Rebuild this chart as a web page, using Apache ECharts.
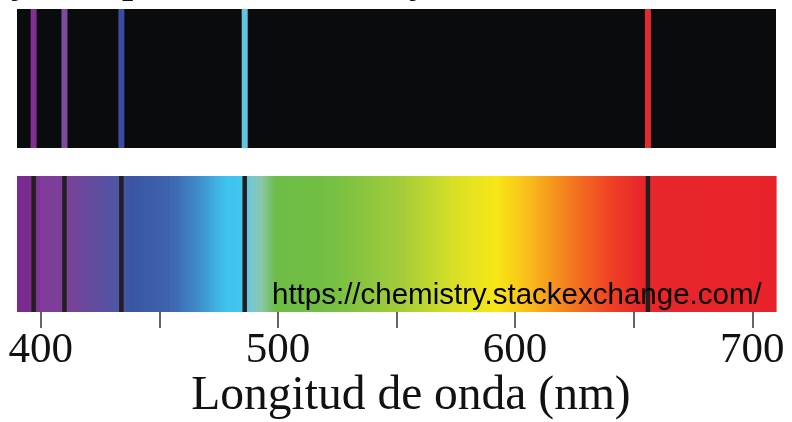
<!DOCTYPE html>
<html>
<head>
<meta charset="utf-8">
<script src="https://cdn.jsdelivr.net/npm/echarts@6/dist/echarts.min.js"></script>
<style>
  html, body { margin: 0; background: #fff; }
  #chart { width: 792px; height: 422px; }
</style>
</head>
<body>
<div id="chart"></div>
<script>
// hydrogen Balmer lines, nm
var lineWavelengths = [397, 410, 434, 486, 656];
var emissionColors = ['#822e93', '#7d4b9e', '#3d4aa0', '#62c5e0', '#e42a2f'];

// colour stops of the visible band (nm -> colour)
var stopWavelengths = [390, 396, 400, 411, 433, 438, 455, 467, 478, 485, 488, 493, 499, 522, 552, 573, 592, 607, 623, 640, 653, 710];
var stopColors = ['#7a2a8c', '#7b2c8e', '#81399a', '#7a4298', '#4c55a5', '#3a55a4', '#3e64b0', '#3f8fcd', '#3ec4ef', '#44c5ee',
                  '#72c7d6', '#8ac8a8', '#6dbd45', '#74bf44', '#a3cc3a', '#d6df27', '#f8e716', '#f8b81a', '#f47b20', '#ef4123', '#e8262b', '#e8222a'];

var tickValues = [400, 450, 500, 550, 600, 650, 700];
var labelValues = [400, 500, 600, 700];
var xMin = 390, xMax = 710;

var segments = [];
for (var i = 0; i < stopWavelengths.length - 1; i++) {
    segments.push([stopWavelengths[i], stopWavelengths[i + 1], i]);
}
var lineData = lineWavelengths.map(function (w, i) { return [w, i]; });

function lineRenderer(width, colorFn) {
    return function (params, api) {
        var top = api.coord([api.value(0), 1]);
        var bottom = api.coord([api.value(0), 0]);
        return {
            type: 'rect',
            shape: { x: top[0] - width / 2, y: top[1], width: width, height: bottom[1] - top[1] },
            style: { fill: colorFn(api.value(1)) }
        };
    };
}

var chart = echarts.init(document.getElementById('chart'));
chart.setOption({
    animation: false,
    grid: [
        { left: 17, right: 16, top: 9, height: 139, show: true, backgroundColor: '#0a0b0c', borderWidth: 0 },
        { left: 17, right: 16, top: 176, height: 139 }
    ],
    xAxis: [
        { gridIndex: 0, type: 'value', min: xMin, max: xMax, show: false },
        {
            gridIndex: 1, type: 'value', min: xMin, max: xMax,
            axisLine: { show: false },
            splitLine: { show: false },
            axisTick: { show: true, customValues: tickValues, length: 16, lineStyle: { color: '#333', width: 1.5 } },
            axisLabel: { customValues: labelValues, fontFamily: 'Liberation Serif', fontSize: 43, color: '#111', margin: 17 },
            name: 'Longitud de onda (nm)',
            nameLocation: 'middle',
            nameGap: 58,
            nameTextStyle: { fontFamily: 'Liberation Serif', fontSize: 47.5, color: '#111', padding: [0, 0, 0, 29] }
        }
    ],
    yAxis: [
        { gridIndex: 0, type: 'value', min: 0, max: 1, show: false },
        { gridIndex: 1, type: 'value', min: 0, max: 1, show: false }
    ],
    series: [
        {
            name: 'emission',
            type: 'custom',
            xAxisIndex: 0, yAxisIndex: 0,
            data: lineData,
            renderItem: lineRenderer(6, function (i) { return emissionColors[i]; })
        },
        {
            name: 'spectrum',
            type: 'custom',
            xAxisIndex: 1, yAxisIndex: 1,
            data: segments,
            renderItem: function (params, api) {
                var p0 = api.coord([api.value(0), 1]);
                var p1 = api.coord([api.value(1), 0]);
                var i = api.value(2);
                return {
                    type: 'rect',
                    shape: { x: p0[0], y: p0[1], width: p1[0] - p0[0] + 0.6, height: p1[1] - p0[1] },
                    style: {
                        fill: new echarts.graphic.LinearGradient(0, 0, 1, 0, [
                            { offset: 0, color: stopColors[i] },
                            { offset: 1, color: stopColors[i + 1] }
                        ])
                    }
                };
            }
        },
        {
            name: 'absorption',
            type: 'custom',
            xAxisIndex: 1, yAxisIndex: 1,
            data: lineData,
            z: 3,
            renderItem: lineRenderer(4.5, function () { return '#231f20'; })
        }
    ],
    graphic: [
        // bits of a title cut off above the picture
        { type: 'text', left: 11, top: -38, style: { text: 'y', font: 'bold 40px "Liberation Serif"', fill: '#111' } },
        { type: 'text', left: 122, top: -38, style: { text: 'p', font: 'bold 40px "Liberation Serif"', fill: '#111' } },
        { type: 'text', left: 409, top: -38, style: { text: 'y', font: 'bold 40px "Liberation Serif"', fill: '#111' } },
        {
            type: 'text', left: 272, top: 281, z: 10,
            style: { text: 'https://chemistry.stackexchange.com/', font: '29.5px "Liberation Sans"', fill: '#000' }
        }
    ]
});
</script>
</body>
</html>
